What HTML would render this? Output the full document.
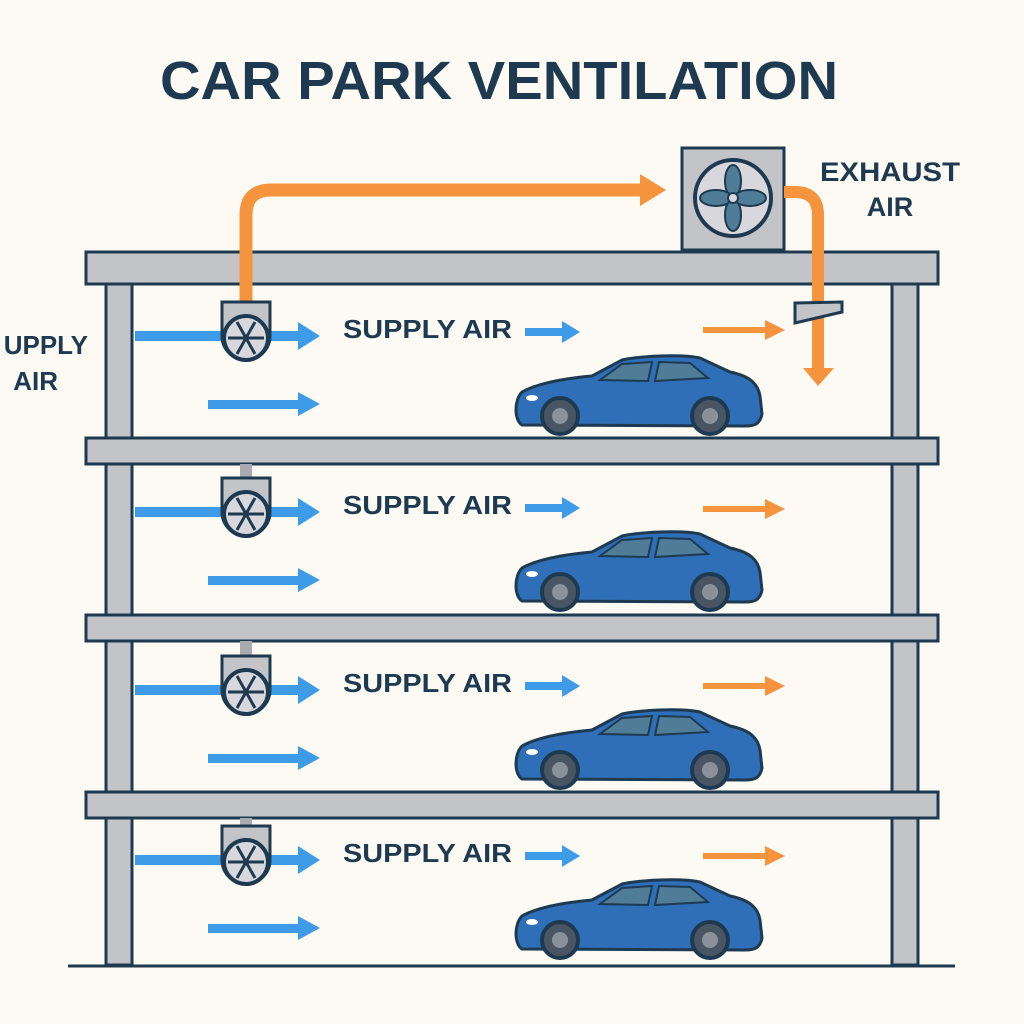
<!DOCTYPE html>
<html><head><style>html,body{margin:0;padding:0;background:#fdfaf4;}svg{display:block}</style></head>
<body>
<svg width="1024" height="1024" viewBox="0 0 1024 1024" xmlns="http://www.w3.org/2000/svg" font-family="Liberation Sans, sans-serif" font-weight="bold">
<defs>
<g id="fan">
  <path d="M222,302 H270 V336 A24,24 0 0 1 222,336 Z" fill="#c3c4c8" stroke="#1e3a50" stroke-width="3"/>
  <circle cx="246" cy="338" r="22" fill="#d8d8dc" stroke="#1e3a50" stroke-width="4"/>
  <g stroke="#1e3a50" stroke-width="3">
    <line x1="228" y1="338" x2="264" y2="338"/>
    <line x1="237" y1="322" x2="255" y2="354"/>
    <line x1="255" y1="322" x2="237" y2="354"/>
  </g>
</g>
<g id="car">
  <path d="M522,425 C514,420 514,400 522,392 C540,382 570,378 592,376 L622,360 C640,356 680,354 700,358 L730,372 C750,376 758,384 760,396 L762,414 C760,424 755,426 745,426 Z" fill="#2f6fb8" stroke="#1e3a50" stroke-width="3"/>
  <path d="M600,380 L622,364 L652,362 L648,381 Z" fill="#4f7d97" stroke="#1e3a50" stroke-width="2"/>
  <path d="M655,381 L659,362 L690,363 L708,378 Z" fill="#4f7d97" stroke="#1e3a50" stroke-width="2"/>
  <circle cx="560" cy="416" r="18" fill="#4a5563" stroke="#1e3a50" stroke-width="4"/>
  <circle cx="560" cy="416" r="8" fill="#8a919a"/>
  <circle cx="710" cy="416" r="18" fill="#4a5563" stroke="#1e3a50" stroke-width="4"/>
  <circle cx="710" cy="416" r="8" fill="#8a919a"/>
  <ellipse cx="532" cy="398" rx="6" ry="3" fill="#fff"/>
</g>
<g id="floor">
  <rect x="135" y="331" width="168" height="10" fill="#3e9be8"/>
  <polygon points="298,322 320,336 298,350" fill="#3e9be8"/>
  <rect x="208" y="400" width="94" height="9" fill="#3e9be8"/>
  <polygon points="298,392 320,404 298,416" fill="#3e9be8"/>
  <use href="#fan"/>
  <text x="343" y="338" font-size="26" fill="#1e3a50" textLength="169" lengthAdjust="spacingAndGlyphs">SUPPLY AIR</text>
  <rect x="525" y="328" width="42" height="8" fill="#3e9be8"/>
  <polygon points="562,321 580,332 562,343" fill="#3e9be8"/>
  <use href="#car"/>
</g>
</defs>
<rect width="1024" height="1024" fill="#fdfaf4"/>
<text x="499" y="99" font-size="54" fill="#1e3a50" text-anchor="middle" textLength="678" lengthAdjust="spacingAndGlyphs">CAR PARK VENTILATION</text>

<rect x="106" y="284" width="26" height="681" fill="#c3c4c8" stroke="#1e3a50" stroke-width="3"/>
<rect x="892" y="284" width="26" height="681" fill="#c3c4c8" stroke="#1e3a50" stroke-width="3"/>
<line x1="68" y1="966" x2="955" y2="966" stroke="#1e3a50" stroke-width="3"/>
<rect x="86" y="252" width="852" height="32" fill="#c3c4c8" stroke="#1e3a50" stroke-width="3"/>
<rect x="86" y="438" width="852" height="26" fill="#c3c4c8" stroke="#1e3a50" stroke-width="3"/>
<rect x="86" y="615" width="852" height="26" fill="#c3c4c8" stroke="#1e3a50" stroke-width="3"/>
<rect x="86" y="792" width="852" height="26" fill="#c3c4c8" stroke="#1e3a50" stroke-width="3"/>

<rect x="240" y="464" width="12" height="18" fill="#a9abb0"/>
<rect x="240" y="641" width="12" height="18" fill="#a9abb0"/>
<rect x="240" y="818" width="12" height="14" fill="#a9abb0"/>

<path d="M246,302 V215 Q246,190 271,190 H642" fill="none" stroke="#f5943c" stroke-width="13"/>
<polygon points="640,174 666,190 640,206" fill="#f5943c"/>
<rect x="682" y="148" width="102" height="102" fill="#c3c4c8" stroke="#1e3a50" stroke-width="3"/>
<circle cx="733" cy="198" r="38" fill="#d8d8dc" stroke="#1e3a50" stroke-width="4"/>
<g fill="#4f7d97" stroke="#1e3a50" stroke-width="2">
  <ellipse cx="733" cy="181" rx="8" ry="16"/>
  <ellipse cx="733" cy="215" rx="8" ry="16"/>
  <ellipse cx="716" cy="198" rx="16" ry="8"/>
  <ellipse cx="750" cy="198" rx="16" ry="8"/>
</g>
<circle cx="733" cy="198" r="5" fill="#d8d8dc" stroke="#1e3a50" stroke-width="2"/>
<path d="M784,192 H795 Q818,192 818,215 V370" fill="none" stroke="#f5943c" stroke-width="12"/>
<polygon points="803,368 834,368 818,386" fill="#f5943c"/>
<polygon points="795,303 842,302 842,312 795,323" fill="#c3c4c8" stroke="#1e3a50" stroke-width="3"/>
<text x="820" y="181" font-size="27" fill="#1e3a50" textLength="140" lengthAdjust="spacingAndGlyphs">EXHAUST</text>
<text x="890" y="216" font-size="27" fill="#1e3a50" text-anchor="middle">AIR</text>
<text x="88" y="354" font-size="26" fill="#1e3a50" text-anchor="end">UPPLY</text>
<text x="58" y="390" font-size="26" fill="#1e3a50" text-anchor="end">AIR</text>

<use href="#floor"/>
<use href="#floor" transform="translate(0,176)"/>
<use href="#floor" transform="translate(0,354)"/>
<use href="#floor" transform="translate(0,524)"/>

<g fill="#f5943c">
  <rect x="703" y="327" width="66" height="6"/><polygon points="765,320 785,330 765,340"/>
  <rect x="703" y="506" width="66" height="6"/><polygon points="765,499 785,509 765,519"/>
  <rect x="703" y="683" width="66" height="6"/><polygon points="765,676 785,686 765,696"/>
  <rect x="703" y="853" width="66" height="6"/><polygon points="765,846 785,856 765,866"/>
</g>
</svg>
</body></html>
